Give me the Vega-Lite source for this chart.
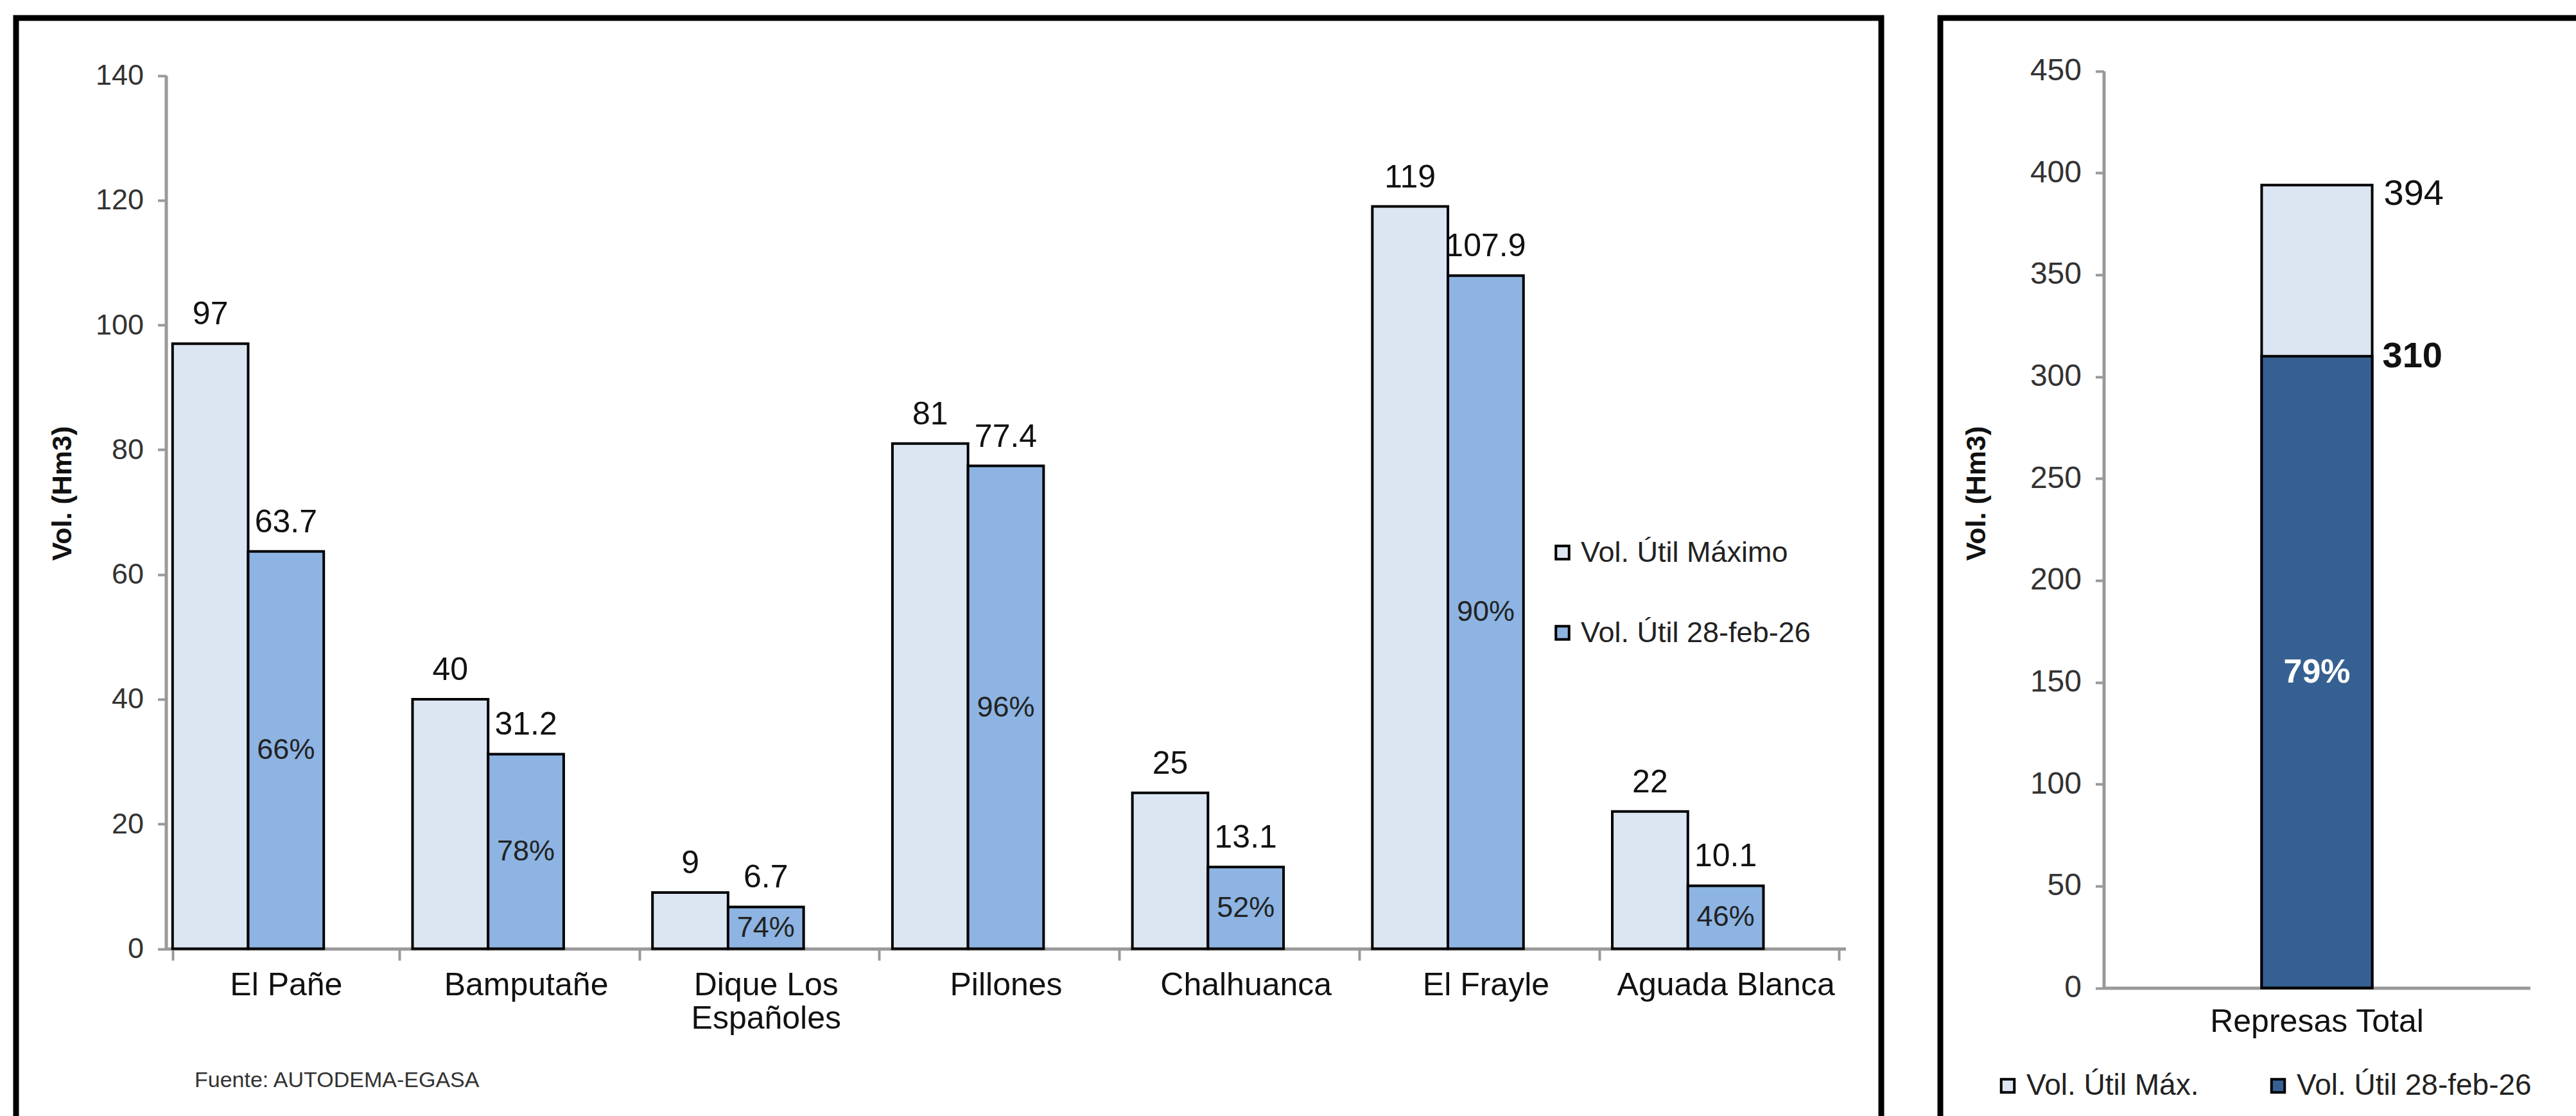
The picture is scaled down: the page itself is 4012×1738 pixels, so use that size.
{
  "$schema": "https://vega.github.io/schema/vega-lite/v6.json",
  "background": "white",
  "padding": {"left": 20, "top": 23, "right": 0, "bottom": 0},
  "config": {
    "font": "Liberation Sans",
    "view": {"stroke": "black", "strokeWidth": 9},
    "concat": {"spacing": 82},
    "axis": {"grid": false}
  },
  "datasets": {
    "represas": [
      {"represa": "El Pañe", "serie": "Vol. Útil Máximo", "vol": 97},
      {"represa": "El Pañe", "serie": "Vol. Útil 28-feb-26", "vol": 63.7, "pct": "66%"},
      {"represa": "Bamputañe", "serie": "Vol. Útil Máximo", "vol": 40},
      {"represa": "Bamputañe", "serie": "Vol. Útil 28-feb-26", "vol": 31.2, "pct": "78%"},
      {"represa": "Dique Los Españoles", "serie": "Vol. Útil Máximo", "vol": 9},
      {"represa": "Dique Los Españoles", "serie": "Vol. Útil 28-feb-26", "vol": 6.7, "pct": "74%"},
      {"represa": "Pillones", "serie": "Vol. Útil Máximo", "vol": 81},
      {"represa": "Pillones", "serie": "Vol. Útil 28-feb-26", "vol": 77.4, "pct": "96%"},
      {"represa": "Chalhuanca", "serie": "Vol. Útil Máximo", "vol": 25},
      {"represa": "Chalhuanca", "serie": "Vol. Útil 28-feb-26", "vol": 13.1, "pct": "52%"},
      {"represa": "El Frayle", "serie": "Vol. Útil Máximo", "vol": 119},
      {"represa": "El Frayle", "serie": "Vol. Útil 28-feb-26", "vol": 107.9, "pct": "90%"},
      {"represa": "Aguada Blanca", "serie": "Vol. Útil Máximo", "vol": 22},
      {"represa": "Aguada Blanca", "serie": "Vol. Útil 28-feb-26", "vol": 10.1, "pct": "46%"}
    ],
    "total": [
      {"grupo": "Represas Total", "max": 394, "cur": 310, "pct": "79%"}
    ]
  },
  "hconcat": [
    {
      "width": 2905,
      "height": 1733,
      "data": {"name": "represas"},
      "encoding": {
        "x": {
          "field": "represa",
          "type": "nominal",
          "sort": ["El Pañe", "Bamputañe", "Dique Los Españoles", "Pillones", "Chalhuanca", "El Frayle", "Aguada Blanca"],
          "scale": {"range": [233.5, 2849.5], "paddingInner": 0.055, "paddingOuter": 0.0275},
          "axis": {
            "offset": -283.5,
            "tickBand": "extent",
            "tickSize": 18,
            "tickColor": "#999999",
            "tickWidth": 4,
            "domainColor": "#999999",
            "domainWidth": 5,
            "labelFontSize": 50,
            "labelColor": "#111111",
            "labelPadding": 14,
            "labelAngle": 0,
            "labelLimit": 2000,
            "labelOverlap": false,
            "labelLineHeight": 52,
            "labelExpr": "datum.label == 'Dique Los Españoles' ? ['Dique Los', 'Españoles'] : datum.label",
            "title": "Fuente: AUTODEMA-EGASA",
            "titleFont": "Liberation Sans",
            "titleFontSize": 34,
            "titleFontWeight": "normal",
            "titleColor": "#333333",
            "titleAlign": "left",
            "titleAnchor": "start",
            "titleBaseline": "middle",
            "titleLimit": 2000,
            "titleX": 277.5,
            "titleY": 205
          }
        },
        "xOffset": {
          "field": "serie",
          "type": "nominal",
          "scale": {"domain": ["Vol. Útil Máximo", "Vol. Útil 28-feb-26", "hueco"], "paddingInner": 0, "paddingOuter": 0}
        }
      },
      "layer": [
        {
          "mark": {"type": "bar", "stroke": "black", "strokeWidth": 4},
          "encoding": {
            "y": {
              "field": "vol",
              "type": "quantitative",
              "scale": {"domain": [0, 140], "range": [1449.5, 89.5], "nice": false},
              "axis": {
                "offset": -233.5,
                "values": [0, 20, 40, 60, 80, 100, 120, 140],
                "tickSize": 13,
                "tickColor": "#999999",
                "tickWidth": 4,
                "domainColor": "#999999",
                "domainWidth": 5,
                "labelFontSize": 45,
                "labelColor": "#333333",
                "labelPadding": 22,
                "title": "Vol. (Hm3)",
                "titleFontSize": 43,
                "titleFontWeight": "bold",
                "titleColor": "#111111",
                "titleBaseline": "middle",
                "titleX": -161,
                "titleY": 740
              }
            },
            "color": {
              "field": "serie",
              "type": "nominal",
              "scale": {"domain": ["Vol. Útil Máximo", "Vol. Útil 28-feb-26"], "range": ["#DCE6F2", "#8DB4E2"]},
              "legend": {
                "orient": "none",
                "legendX": 2386,
                "legendY": 810,
                "title": null,
                "direction": "vertical",
                "symbolType": "square",
                "symbolSize": 420,
                "symbolStrokeColor": "black",
                "symbolStrokeWidth": 4,
                "labelFontSize": 45,
                "labelColor": "#222222",
                "labelOffset": 6,
                "labelLimit": 2000,
                "rowPadding": 79
              }
            }
          }
        },
        {
          "mark": {"type": "text", "baseline": "alphabetic", "dy": -30, "fontSize": 50, "color": "#111111"},
          "encoding": {
            "y": {
              "field": "vol",
              "type": "quantitative",
              "scale": {"domain": [0, 140], "range": [1449.5, 89.5], "nice": false},
              "axis": null
            },
            "text": {"field": "vol", "type": "quantitative", "format": "~f"}
          }
        },
        {
          "transform": [{"filter": "isValid(datum.pct)"}],
          "mark": {"type": "text", "baseline": "middle", "fontSize": 45, "color": "#222222"},
          "encoding": {
            "y": {
              "field": "vol",
              "type": "quantitative",
              "scale": {"domain": [0, 280], "range": [1449.5, 89.5], "nice": false},
              "axis": null
            },
            "text": {"field": "pct", "type": "nominal"}
          }
        }
      ],
      "resolve": {"scale": {"y": "independent"}}
    },
    {
      "width": 1000,
      "height": 1733,
      "data": {"name": "total"},
      "encoding": {
        "x": {
          "field": "grupo",
          "type": "nominal",
          "scale": {"range": [254.5, 918.5], "paddingInner": 0.3, "paddingOuter": 1},
          "axis": {
            "offset": -222.5,
            "ticks": false,
            "domainColor": "#999999",
            "domainWidth": 5,
            "labelFontSize": 50,
            "labelColor": "#111111",
            "labelPadding": 28,
            "labelAngle": 0,
            "labelLimit": 2000,
            "title": null
          }
        }
      },
      "layer": [
        {
          "mark": {"type": "bar", "stroke": "black", "strokeWidth": 4},
          "encoding": {
            "y": {
              "field": "max",
              "type": "quantitative",
              "scale": {"domain": [0, 450], "range": [1510.5, 82.5], "nice": false},
              "axis": {
                "offset": -254.5,
                "values": [0, 50, 100, 150, 200, 250, 300, 350, 400, 450],
                "tickSize": 13,
                "tickColor": "#999999",
                "tickWidth": 4,
                "domainColor": "#999999",
                "domainWidth": 5,
                "labelFontSize": 48,
                "labelColor": "#333333",
                "labelPadding": 22,
                "title": "Vol. (Hm3)",
                "titleFontSize": 43,
                "titleFontWeight": "bold",
                "titleColor": "#111111",
                "titleBaseline": "middle",
                "titleX": -198,
                "titleY": 740
              }
            },
            "color": {
              "datum": "Vol. Útil Máx.",
              "type": "nominal",
              "scale": {"domain": ["Vol. Útil Máx.", "Vol. Útil 28-feb-26"], "range": ["#DCE6F2", "#376092"]},
              "legend": {
                "orient": "none",
                "legendX": 82,
                "legendY": 1640,
                "title": null,
                "direction": "horizontal",
                "symbolType": "square",
                "symbolSize": 420,
                "symbolStrokeColor": "black",
                "symbolStrokeWidth": 4,
                "labelFontSize": 46,
                "labelColor": "#222222",
                "labelOffset": 6,
                "labelLimit": 2000,
                "columnPadding": 100
              }
            }
          }
        },
        {
          "mark": {"type": "bar", "stroke": "black", "strokeWidth": 4},
          "encoding": {
            "y": {
              "field": "cur",
              "type": "quantitative",
              "scale": {"domain": [0, 450], "range": [1510.5, 82.5], "nice": false},
              "axis": null
            },
            "color": {"datum": "Vol. Útil 28-feb-26", "type": "nominal"}
          }
        },
        {
          "mark": {"type": "text", "align": "left", "baseline": "middle", "dx": 18, "dy": 14, "fontSize": 56, "color": "#111111"},
          "encoding": {
            "x": {"field": "grupo", "type": "nominal", "bandPosition": 1},
            "y": {
              "field": "max",
              "type": "quantitative",
              "scale": {"domain": [0, 450], "range": [1510.5, 82.5], "nice": false},
              "axis": null
            },
            "text": {"field": "max", "type": "quantitative", "format": "~f"}
          }
        },
        {
          "mark": {"type": "text", "align": "left", "baseline": "middle", "dx": 16, "fontSize": 56, "fontWeight": "bold", "color": "#111111"},
          "encoding": {
            "x": {"field": "grupo", "type": "nominal", "bandPosition": 1},
            "y": {
              "field": "cur",
              "type": "quantitative",
              "scale": {"domain": [0, 450], "range": [1510.5, 82.5], "nice": false},
              "axis": null
            },
            "text": {"field": "cur", "type": "quantitative", "format": "~f"}
          }
        },
        {
          "mark": {"type": "text", "baseline": "middle", "fontSize": 52, "fontWeight": "bold", "color": "white"},
          "encoding": {
            "y": {
              "field": "cur",
              "type": "quantitative",
              "scale": {"domain": [0, 900], "range": [1510.5, 82.5], "nice": false},
              "axis": null
            },
            "text": {"field": "pct", "type": "nominal"}
          }
        }
      ],
      "resolve": {"scale": {"y": "independent"}}
    }
  ],
  "resolve": {
    "scale": {"color": "independent", "x": "independent", "y": "independent", "xOffset": "independent"},
    "legend": {"color": "independent"}
  }
}
